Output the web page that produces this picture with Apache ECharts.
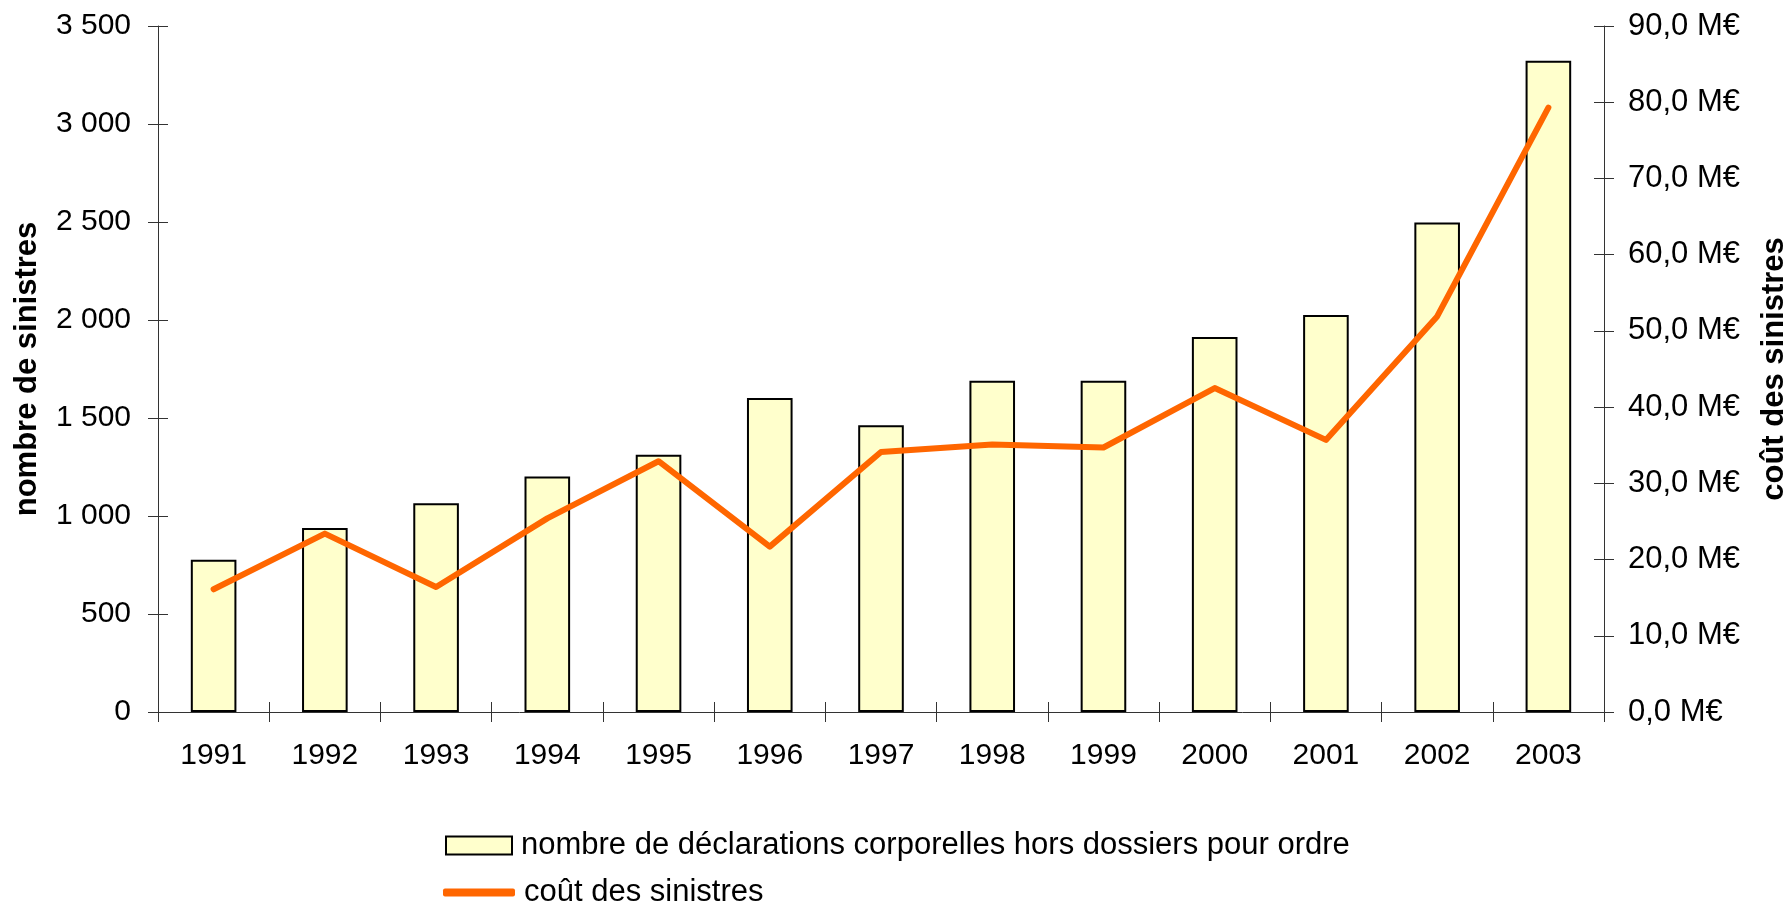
<!DOCTYPE html>
<html>
<head>
<meta charset="utf-8">
<script src="https://cdn.jsdelivr.net/npm/echarts@6/dist/echarts.min.js"></script>
<style>
html,body{margin:0;padding:0;background:#fff;}
#chart{width:1787px;height:904px;}
</style>
</head>
<body>
<div id="chart"></div>
<script>
const years = ['1991','1992','1993','1994','1995','1996','1997','1998','1999','2000','2001','2002','2003'];
const declarations = [777, 939, 1065, 1202, 1313, 1602, 1463, 1690, 1690, 1913, 2026, 2498, 3323];
const couts = [16.1, 23.4, 16.4, 25.4, 32.9, 21.7, 34.1, 35.1, 34.7, 42.5, 35.7, 51.9, 79.3];
const barName = 'nombre de déclarations corporelles hors dossiers pour ordre';
const lineName = 'coût des sinistres';
const leftTitle = 'nombre de sinistres';
const rightTitle = 'coût des sinistres';

const FONT = "'Liberation Sans', Arial, sans-serif";
const AX = '#333';

function fmtLeft(v){
  const s = String(Math.round(v));
  return s.replace(/\B(?=(\d{3})+(?!\d))/g, ' ');
}
function fmtRight(v){
  return v.toFixed(1).replace('.', ',') + ' M€';
}

const chart = echarts.init(document.getElementById('chart'), null, {renderer:'canvas'});
const legendText = {fontFamily:FONT, fontSize:31, color:'#000', padding:[0,0,0,4]};
chart.setOption({
  animation:false,
  backgroundColor:'#ffffff',
  textStyle:{fontFamily:FONT, color:'#000'},
  grid:{left:158, right:183, top:26, bottom:192, outerBoundsMode:'none', containLabel:false},
  legend:[{
    orient:'horizontal', left:445, top:830, padding:0,
    itemWidth:66, itemHeight:18,
    textStyle:legendText,
    data:[{name:barName, icon:'rect'}]
  },{
    orient:'horizontal', left:443, top:877, padding:0,
    itemWidth:72, itemHeight:8,
    textStyle:legendText,
    itemStyle:{color:'#FF6600', borderWidth:0},
    lineStyle:{width:0},
    data:[{name:lineName, icon:'roundRect'}]
  }],
  xAxis:[{
    type:'category', data:years, boundaryGap:true,
    axisLine:{lineStyle:{color:AX, width:1}},
    axisTick:{show:true, length:10, lineStyle:{color:AX,width:1}},
    axisLabel:{fontFamily:FONT, fontSize:30, color:'#000', margin:29},
    splitLine:{show:false}
  },{
    type:'category', data:years, boundaryGap:true, position:'bottom',
    axisLine:{show:false},
    axisTick:{show:true, inside:true, length:10, lineStyle:{color:AX,width:1}},
    axisLabel:{show:false}, splitLine:{show:false}
  }],
  yAxis:[{
    type:'value', min:0, max:3500, interval:500, position:'left',
    name:leftTitle, nameLocation:'middle', nameRotate:90, nameGap:115,
    nameTextStyle:{fontFamily:FONT, fontSize:31, fontWeight:'bold', color:'#000'},
    axisLine:{show:true, lineStyle:{color:AX, width:1}},
    axisTick:{show:true, length:10, lineStyle:{color:AX,width:1}},
    axisLabel:{fontFamily:FONT, fontSize:30, color:'#000', margin:27, formatter:fmtLeft},
    splitLine:{show:false}
  },{
    type:'value', min:0, max:90, interval:10, position:'right',
    name:rightTitle, nameLocation:'middle', nameRotate:90, nameGap:155,
    nameTextStyle:{fontFamily:FONT, fontSize:31, fontWeight:'bold', color:'#000', verticalAlign:'top'},
    axisLine:{show:true, lineStyle:{color:AX, width:1}},
    axisTick:{show:true, length:10, lineStyle:{color:AX,width:1}},
    axisLabel:{fontFamily:FONT, fontSize:31, color:'#000', margin:24, formatter:fmtRight},
    splitLine:{show:false}
  },{
    type:'value', min:0, max:3500, interval:500, position:'left',
    axisLine:{show:false}, axisTick:{show:true, inside:true, length:10, lineStyle:{color:AX,width:1}},
    axisLabel:{show:false}, splitLine:{show:false}
  },{
    type:'value', min:0, max:90, interval:10, position:'right',
    axisLine:{show:false}, axisTick:{show:true, inside:true, length:10, lineStyle:{color:AX,width:1}},
    axisLabel:{show:false}, splitLine:{show:false}
  }],
  series:[{
    name:barName, type:'bar', data:declarations, yAxisIndex:0, xAxisIndex:0,
    barWidth:'41%',
    itemStyle:{color:'#FFFFCC', borderColor:'#000', borderWidth:2},
    emphasis:{disabled:true}
  },{
    name:lineName, type:'line', data:couts, yAxisIndex:1, xAxisIndex:0,
    symbol:'none', showSymbol:false,
    lineStyle:{color:'#FF6600', width:6, cap:'round', join:'round'},
    itemStyle:{color:'#FF6600'},
    emphasis:{disabled:true}
  }]
});
</script>
</body>
</html>
